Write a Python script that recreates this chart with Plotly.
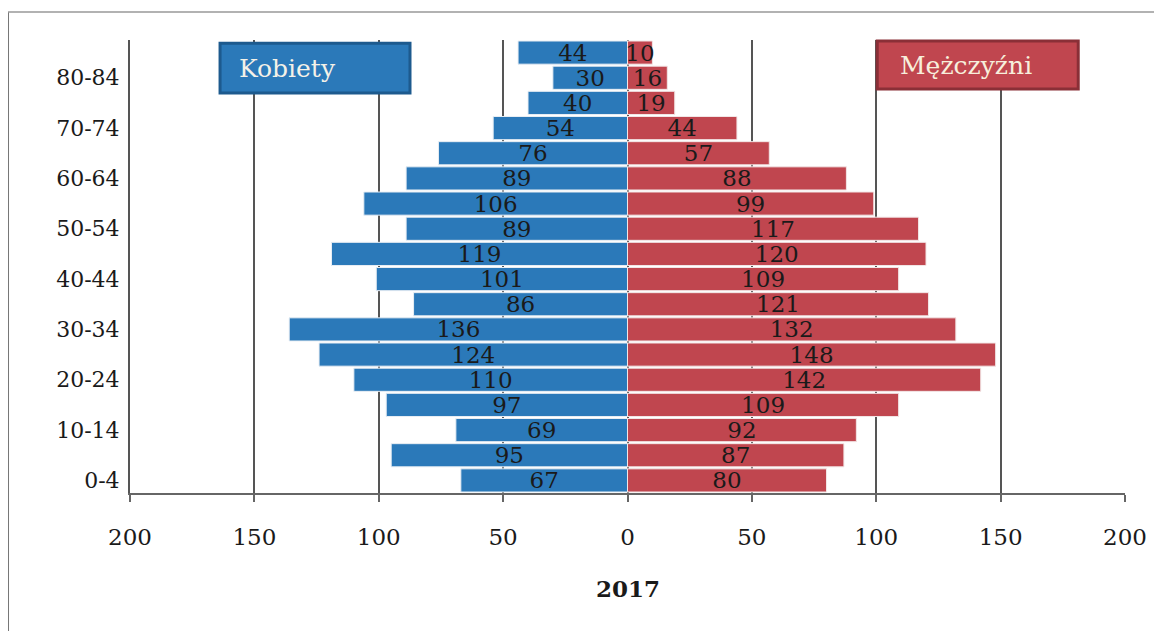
import plotly.graph_objects as go

age_groups = ["0-4", "5-9", "10-14", "15-19", "20-24", "25-29", "30-34", "35-39",
              "40-44", "45-49", "50-54", "55-59", "60-64", "65-69", "70-74", "75-79",
              "80-84", "85+"]
kobiety = [67, 95, 69, 97, 110, 124, 136, 86, 101, 119, 89, 106, 89, 76, 54, 40, 30, 44]
mezczyzni = [80, 87, 92, 109, 142, 148, 132, 121, 109, 120, 117, 99, 88, 57, 44, 19, 16, 10]
shown_age_labels = ["0-4", "10-14", "20-24", "30-34", "40-44", "50-54", "60-64", "70-74", "80-84"]
x_ticks = [-200, -150, -100, -50, 0, 50, 100, 150, 200]
x_tick_text = ["200", "150", "100", "50", "0", "50", "100", "150", "200"]
year_label = "2017"

FONT = "DejaVu Serif"
BLUE = "#2b79b9"
RED = "#c0464f"

fig = go.Figure()
fig.add_trace(go.Bar(
    y=age_groups, x=[-v for v in kobiety], orientation="h", name="Kobiety",
    marker=dict(color=BLUE, line=dict(color="#e8eef4", width=1)),
    text=[str(v) for v in kobiety], textposition="inside", insidetextanchor="middle",
    constraintext="none", cliponaxis=False,
    textfont=dict(family=FONT, size=23, color="#1a1a1a"), textangle=0,
    hoverinfo="skip",
))
fig.add_trace(go.Bar(
    y=age_groups, x=mezczyzni, orientation="h", name="Mężczyźni",
    marker=dict(color=RED, line=dict(color="#f2e6e6", width=1)),
    text=[str(v) for v in mezczyzni], textposition="inside", insidetextanchor="middle",
    constraintext="none", cliponaxis=False,
    textfont=dict(family=FONT, size=23, color="#1a1a1a"), textangle=0,
    hoverinfo="skip",
))

shapes = [
    # outer frame (left and top edges)
    dict(type="line", xref="paper", yref="paper", x0=-0.1226, x1=-0.1226, y0=-0.35, y1=1.0618,
         line=dict(color="#777777", width=2)),
    dict(type="line", xref="paper", yref="paper", x0=-0.1226, x1=1.1, y0=1.0618, y1=1.0618,
         line=dict(color="#999999", width=1.5)),
    # legend boxes
    dict(type="rect", xref="paper", yref="paper", x0=0.0905, x1=0.2814, y0=0.883, y1=0.993,
         fillcolor=BLUE, line=dict(color="#1d5a8e", width=3), layer="above"),
    dict(type="rect", xref="paper", yref="paper", x0=0.751, x1=0.953, y0=0.892, y1=0.998,
         fillcolor=RED, line=dict(color="#8a2f37", width=3), layer="above"),
]

annotations = [
    dict(text="Kobiety", xref="paper", yref="paper", x=0.108, y=0.936, xanchor="left",
         yanchor="middle", showarrow=False, font=dict(family=FONT, size=25, color="#f4f1e8")),
    dict(text="Mężczyźni", xref="paper", yref="paper", x=0.772, y=0.943, xanchor="left",
         yanchor="middle", showarrow=False, font=dict(family=FONT, size=25, color="#f7efdc")),
    dict(text="<b>" + year_label + "</b>", xref="paper", yref="paper", x=0.5005, y=-0.21,
         xanchor="center", yanchor="middle", showarrow=False,
         font=dict(family=FONT, size=23, color="#1a1a1a")),
]

fig.update_layout(
    width=1162, height=631,
    margin=dict(l=122, r=45, t=32, b=146),
    paper_bgcolor="white", plot_bgcolor="white",
    barmode="overlay", bargap=0.08,
    showlegend=False,
    shapes=shapes, annotations=annotations,
    font=dict(family=FONT, size=22, color="#1a1a1a"),
    xaxis=dict(range=[-200, 200], tickvals=x_ticks, ticktext=x_tick_text,
               showgrid=True, gridcolor="#555555", gridwidth=1.5,
               zeroline=True, zerolinecolor="#555555", zerolinewidth=1.5,
               showline=True, linecolor="#666666", linewidth=2,
               ticks="outside", ticklen=7, tickcolor="#666666", tickwidth=2,
               ticklabelstandoff=15,
               tickfont=dict(family=FONT, size=23, color="#1a1a1a"), fixedrange=True),
    yaxis=dict(categoryorder="array", categoryarray=age_groups,
               tickvals=shown_age_labels, ticktext=shown_age_labels,
               range=[-0.5, 17.5], showgrid=False, zeroline=False,
               showline=True, linecolor="#555555", linewidth=2,
               ticks="", ticklabelstandoff=4,
               tickfont=dict(family=FONT, size=22, color="#1a1a1a"), fixedrange=True),
)

fig.write_html("out.html")
